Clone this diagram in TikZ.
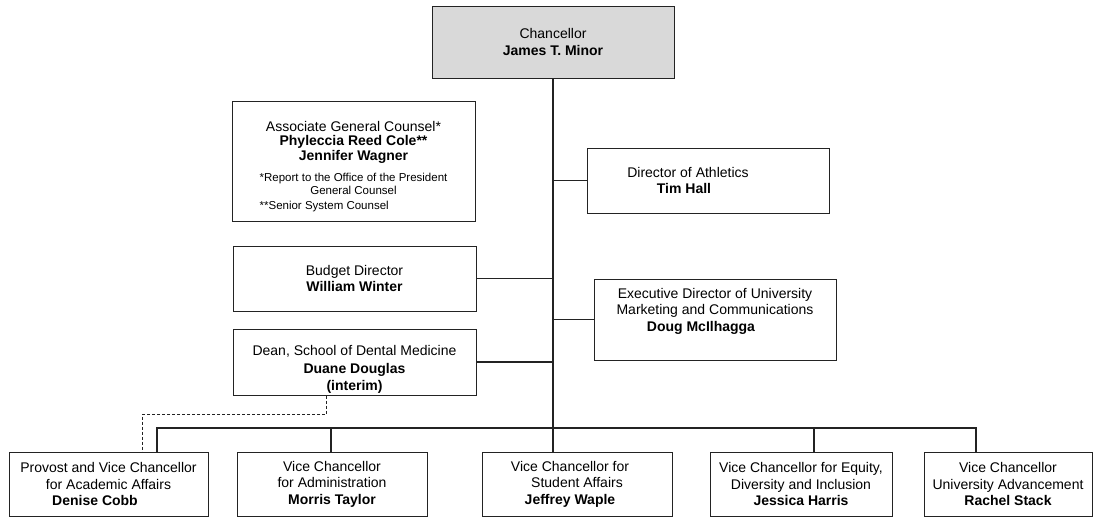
\documentclass[tikz,border=0pt]{standalone}
\usepackage{fontspec}
\setmainfont{Liberation Sans}
\usepackage{tikz}

\definecolor{chanfill}{RGB}{217,217,217}
\definecolor{rule}{RGB}{35,35,35}
\newcommand{\notefont}{\fontsize{11.5}{13}\selectfont}

\begin{document}
\begin{tikzpicture}[
  x=1pt, y=-1pt,
  post/.style={draw=rule, line width=1pt, inner sep=0pt, align=center,
    font=\fontsize{14}{16.5}\selectfont},
  link/.style={draw=rule, line width=1.5pt},
  dotlink/.style={draw=rule, line width=1pt, dash pattern=on 3pt off 2pt},
]
\useasboundingbox (0,0) rectangle (1095,517);

% top of the chart
\node[post, fill=chanfill, minimum width=242, minimum height=72] (chan) at (553,42)
  {Chancellor\\\textbf{James T. Minor}};
\coordinate (bus) at (553,428);

% staff boxes beside the trunk
\node[post, minimum width=243, minimum height=120] (agc) at (353.5,161)
  {\rule{0pt}{22pt}Associate General Counsel*\\[-2pt]\textbf{Phyleccia Reed Cole**}\\[-2pt]
   \textbf{Jennifer Wagner}\\[8pt]
   {\notefont\begin{tabular}{@{}l@{}}*Report to the Office of the President\\
    \multicolumn{1}{@{}c@{}}{General Counsel}\\[2pt]
    **Senior System Counsel\end{tabular}}};
\node[post, minimum width=242, minimum height=65] (ath) at (708,180.5)
  {Director of Athletics\hspace*{40pt}\\\textbf{Tim Hall}\hspace*{48pt}};
\node[post, minimum width=243, minimum height=65] (bud) at (354.5,278.5)
  {Budget Director\\\textbf{William Winter}};
\node[post, minimum width=242, minimum height=81] (mkt) at (715,319.5)
  {Executive Director of University\\Marketing and Communications\\
   \textbf{Doug McIlhagga}\hspace*{28pt}\rule[-20pt]{0pt}{20pt}};
\node[post, minimum width=243, minimum height=66] (dean) at (354.5,362)
  {\rule{0pt}{24pt}Dean, School of Dental Medicine\\[2pt]\textbf{Duane Douglas}\\\textbf{(interim)}};

% vice chancellors
\node[post, minimum width=199, minimum height=64] (prov) at (108.5,484)
  {Provost and Vice Chancellor\\for Academic Affairs\hspace*{27pt}\\\textbf{Denise Cobb}\hspace*{27pt}};
\node[post, minimum width=190, minimum height=64] (adm) at (332,484)
  {Vice Chancellor\\for Administration\\\textbf{Morris Taylor}};
\node[post, minimum width=190, minimum height=64] (stu) at (577,484)
  {Vice Chancellor for\hspace*{14pt}\\Student Affairs\hspace*{14pt}\\\textbf{Jeffrey Waple}\hspace*{14pt}};
\node[post, minimum width=182, minimum height=64] (edi) at (801,484)
  {Vice Chancellor for Equity,\\Diversity and Inclusion\\\textbf{Jessica Harris}};
\node[post, minimum width=168, minimum height=64] (adv) at (1008,484)
  {Vice Chancellor\\University Advancement\\\textbf{Rachel Stack}};

\draw[link] (chan.south) -- (bus);
\draw[link] (ath.west) -- (ath.west -| bus);
\draw[link] (bud.east) -- (bud.east -| bus);
\draw[link] (mkt.west) -- (mkt.west -| bus);
\draw[link] (dean.east) -- (dean.east -| bus);

\foreach \n/\dx in {prov/48.5, adm/-1, stu/-24, edi/13, adv/-32}
  \draw[link] ([xshift=\dx pt]\n.north) |- (bus);

\draw[dotlink] ([xshift=-28.5pt]dean.south) -- ++(0,19) -| ([xshift=33.5pt]prov.north);
\end{tikzpicture}
\end{document}
